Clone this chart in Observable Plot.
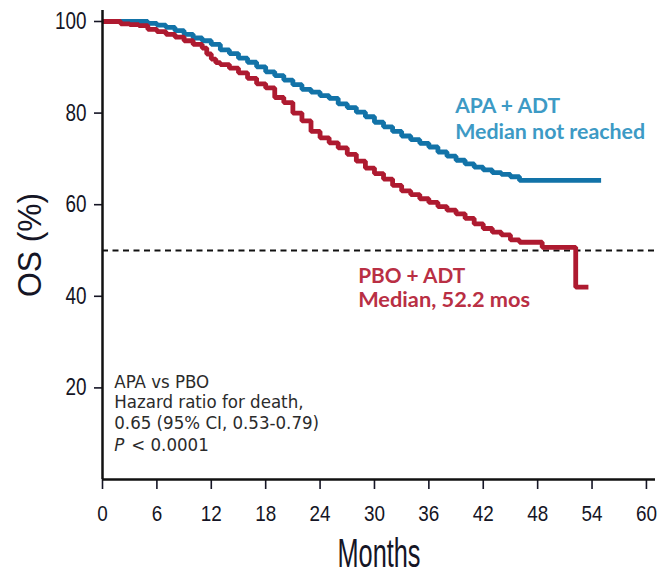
<!DOCTYPE html>
<html>
<head>
<meta charset="utf-8">
<script src="https://cdn.jsdelivr.net/npm/d3@7"></script>
<script src="https://cdn.jsdelivr.net/npm/@observablehq/plot@0.6"></script>
<style>
  body { margin: 0; background: #fff; }
  #chart svg { display: block; }
</style>
</head>
<body>
<div id="chart"></div>
<script>
// Kaplan-Meier overall survival
const apaMonths = [0, 2, 4, 5, 6, 7, 8, 9, 10, 11, 12, 13, 14, 15, 16, 17, 18, 19, 20, 21, 22, 23, 24, 25, 26, 27, 28, 29, 30, 31, 32, 33, 34, 35, 36, 37, 38, 39, 40, 41, 42, 43, 44, 45, 46, 55];
const apaOS = [100, 100, 100, 99.6, 99.2, 98.7, 98.0, 97.2, 96.4, 95.8, 95.0, 93.8, 93.0, 92.0, 91.1, 90.1, 89.0, 88.2, 87.2, 86.2, 85.2, 84.6, 83.8, 83.2, 82.0, 81.2, 80.2, 79.2, 78.0, 77.0, 76.0, 75.0, 74.2, 73.4, 72.6, 71.5, 70.6, 69.7, 68.9, 68.2, 67.6, 67.0, 66.6, 66.1, 65.3, 65.3];

const pboMonths = [0, 1.5, 2, 3, 4, 5, 6, 7, 8, 9, 10, 11, 11.5, 12, 12.5, 13, 14, 15, 16, 17, 18, 19, 20, 21, 22, 23, 24, 25, 26, 27, 28, 29, 30, 31, 32, 33, 34, 35, 36, 37, 38, 39, 40, 41, 42, 43, 44, 45, 46, 48.5, 52.2, 53.6];
const pboOS = [100, 100, 99.5, 99.3, 99.1, 98.3, 97.8, 97.2, 96.6, 95.8, 95.0, 94.2, 92.9, 91.8, 91.0, 90.6, 89.8, 88.8, 87.6, 86.4, 85.5, 83.4, 82.3, 80.0, 78.3, 76.0, 74.6, 73.5, 72.4, 71.0, 69.5, 68.0, 66.8, 65.6, 64.2, 63.0, 62.2, 61.3, 60.5, 59.6, 58.8, 58.0, 57.0, 55.8, 54.8, 54.0, 53.4, 52.3, 51.8, 50.7, 42.0, 42.0];

const xTicks = [0, 6, 12, 18, 24, 30, 36, 42, 48, 54, 60];
const yTicks = [20, 40, 60, 80, 100];
const medianLine = 50;

const armLabels = [
  { month: 38.9, os: 81.5, text: "APA + ADT", arm: "APA" },
  { month: 38.9, os: 75.8, text: "Median not reached", arm: "APA" },
  { month: 28.2, os: 44.4, text: "PBO + ADT", arm: "PBO" },
  { month: 28.2, os: 39.1, text: "Median, 52.2 mos", arm: "PBO" }
];
const statLines = [
  { month: 1.3, os: 21.3, text: "APA vs PBO" },
  { month: 1.3, os: 16.8, text: "Hazard ratio for death," },
  { month: 1.3, os: 12.3, text: "0.65 (95% CI, 0.53-0.79)" }
];
const pLine = { month: 1.3, os: 7.6 };

const toRows = (months, os, arm) => months.map((m, i) => ({ month: m, os: os[i], arm }));
const curves = [...toRows(apaMonths, apaOS, "APA"), ...toRows(pboMonths, pboOS, "PBO")];

const lineColor = { APA: "#1273a8", PBO: "#ae1a30" };
const labelColor = { APA: "#3d9ac5", PBO: "#b92f44" };
const axisFont = "'Liberation Sans', Arial, sans-serif";
const statFont = "'DejaVu Sans Condensed', 'DejaVu Sans', sans-serif";
const labelFont = "Lato, 'Open Sans', sans-serif";

// the source uses condensed faces; squeeze text to the widths measured on it
const labelWidths = {
  "APA + ADT": 105, "Median not reached": 190,
  "PBO + ADT": 107, "Median, 52.2 mos": 172,
  "Months": 83, "OS (%)": 104
};

const chart = Plot.plot({
  width: 658,
  height: 577,
  marginLeft: 102,
  marginRight: 3,
  marginTop: 10,
  marginBottom: 98,
  style: { fontFamily: axisFont, color: "#151525", background: "#fff" },
  x: { domain: [0, 61], label: null },
  y: { domain: [0, 102.4], label: null },
  marks: [
    Plot.axisX({ ticks: xTicks, tickSize: 10, tickPadding: 16, fontSize: 21.5, strokeWidth: 1.6, label: null }),
    Plot.axisY({ ticks: yTicks, tickSize: 8, tickPadding: 8, fontSize: 23.5, strokeWidth: 1.6, label: null }),
    Plot.ruleY([medianLine], { stroke: "#111", strokeWidth: 2, strokeDasharray: "6,4.5" }),
    Plot.line(curves, {
      x: "month", y: "os", z: "arm",
      stroke: d => lineColor[d.arm],
      strokeWidth: 4.8, curve: "step-after", strokeLinejoin: "miter", strokeLinecap: "butt"
    }),
    Plot.ruleX([0], { stroke: "#111", strokeWidth: 2.5 }),
    Plot.ruleY([0], { stroke: "#111", strokeWidth: 2.5 }),
    Plot.text(armLabels, {
      x: "month", y: "os", text: "text", fill: d => labelColor[d.arm],
      textAnchor: "start", fontSize: 21, fontWeight: "bold", fontFamily: labelFont
    }),
    Plot.text(statLines, {
      x: "month", y: "os", text: "text", fill: "#2b2b2b",
      textAnchor: "start", fontSize: 18.5, fontFamily: statFont
    }),
    Plot.text([pLine], {
      x: "month", y: "os", text: () => "P", fill: "#2b2b2b",
      textAnchor: "start", fontSize: 18.5, fontStyle: "italic", fontFamily: statFont
    }),
    Plot.text([pLine], {
      x: "month", y: "os", text: () => "< 0.0001", fill: "#2b2b2b", dx: 17,
      textAnchor: "start", fontSize: 18.5, fontFamily: statFont
    }),
    Plot.text(["Months"], {
      frameAnchor: "bottom", textAnchor: "middle", lineAnchor: "middle", dy: 75,
      text: d => d, fontSize: 40, fill: "#151525"
    }),
    Plot.text(["OS (%)"], {
      frameAnchor: "left", textAnchor: "middle", lineAnchor: "middle", dx: -72, rotate: -90,
      text: d => d, fontSize: 33, fill: "#151525"
    })
  ]
});

const svg = d3.select(chart);
svg.selectAll("text").each(function () {
  const t = this.textContent;
  if (labelWidths[t]) {
    d3.select(this).attr("textLength", labelWidths[t]).attr("lengthAdjust", "spacingAndGlyphs");
  }
});
svg.selectAll('[aria-label="x-axis tick label"] text, [aria-label="y-axis tick label"] text').each(function () {
  const n = this.textContent.length;
  d3.select(this).attr("textLength", 10.5 * n).attr("lengthAdjust", "spacingAndGlyphs");
});

document.getElementById("chart").append(chart);
</script>
</body>
</html>
